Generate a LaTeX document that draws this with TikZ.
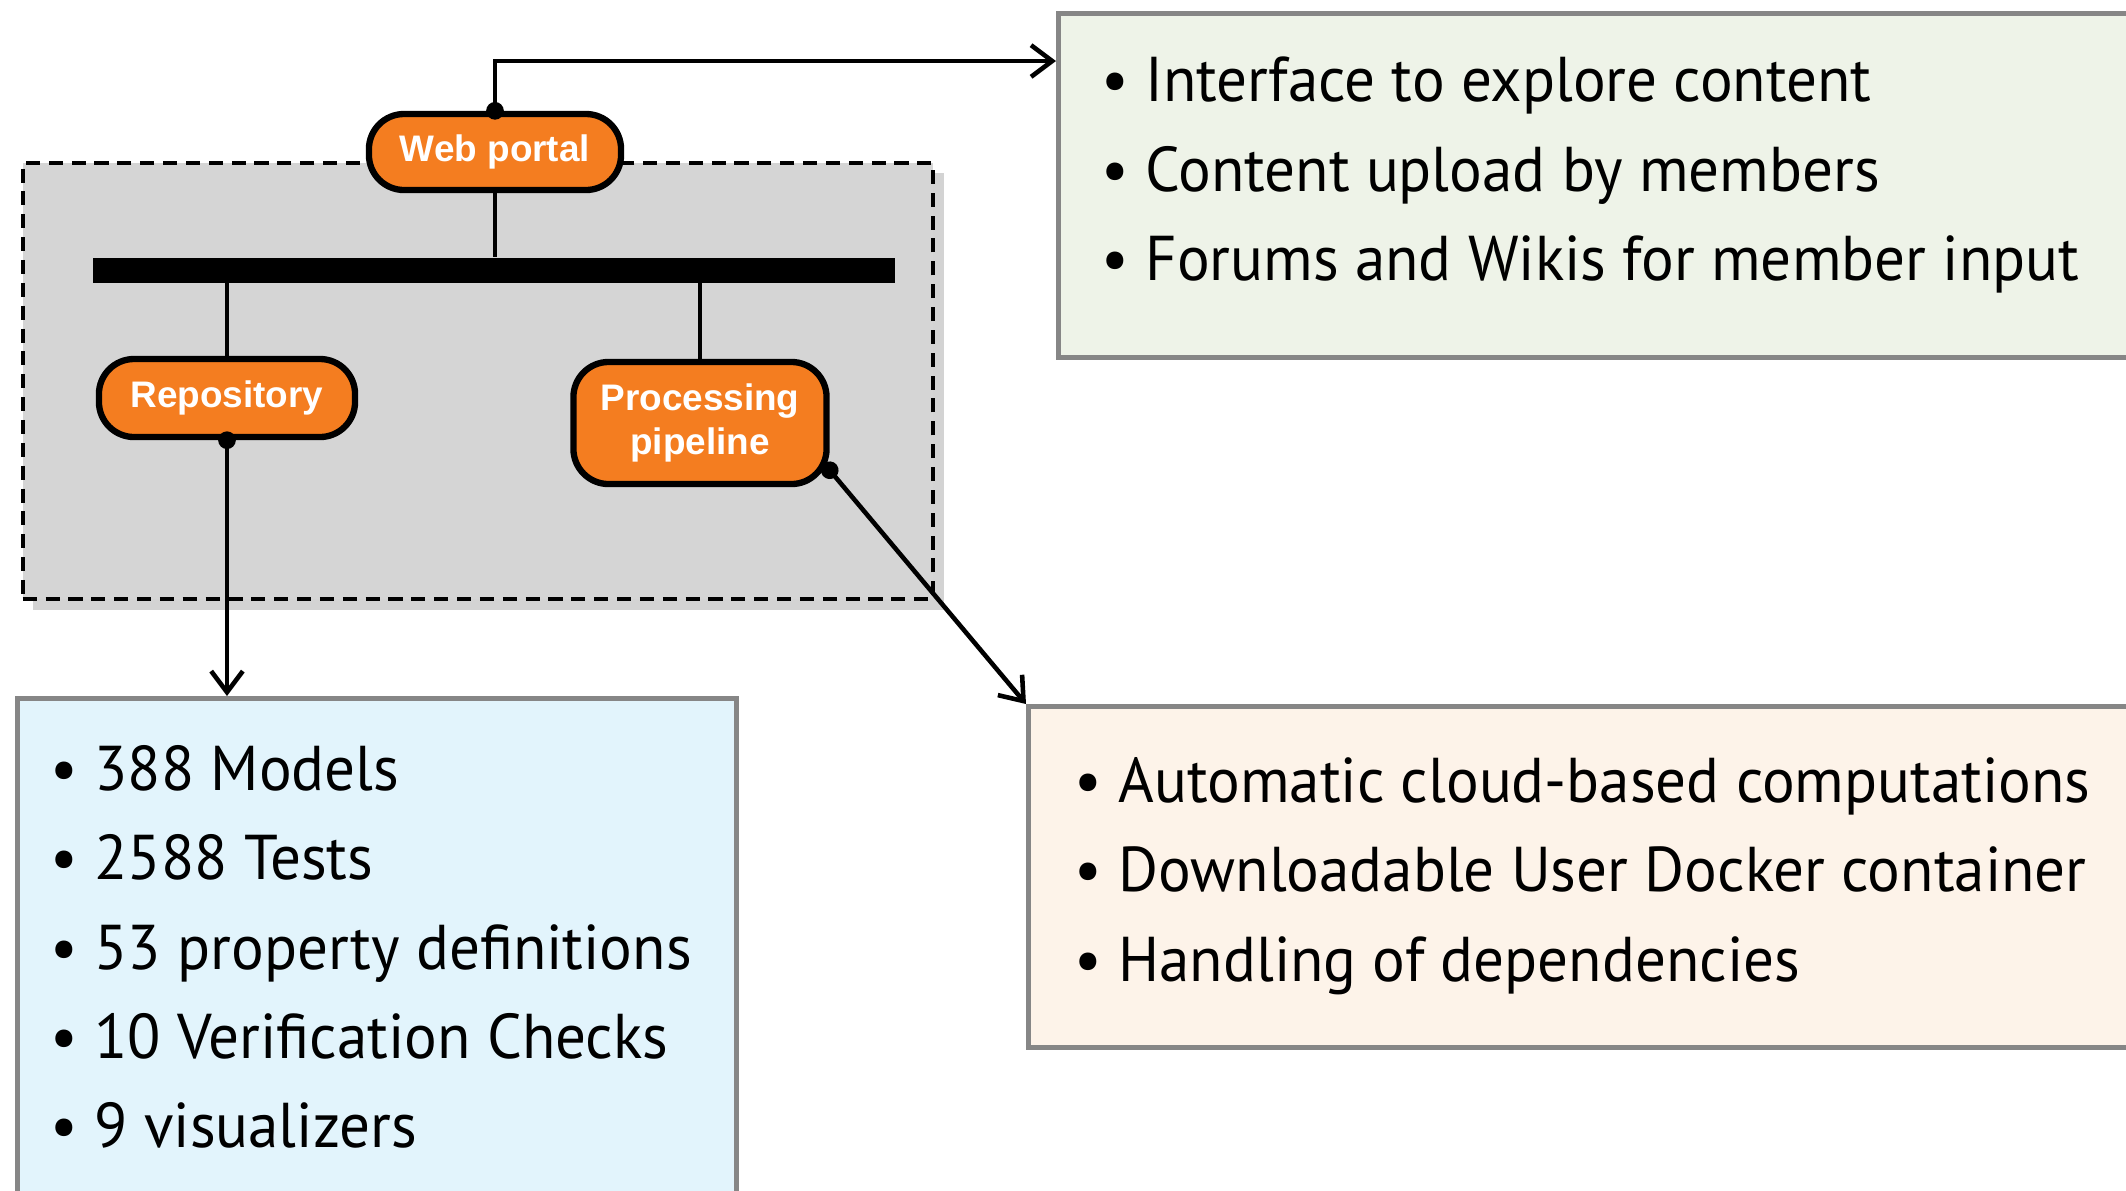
\documentclass[tikz,border=0pt]{standalone}
\usepackage{fontspec}
\setmainfont[FakeStretch=0.965]{PT Sans}
\newfontfamily\labelfont{Liberation Sans}
\usetikzlibrary{arrows.meta,shadows}

\definecolor{portalorange}{HTML}{F47D20}
\definecolor{groupgray}{HTML}{D5D5D5}
\definecolor{webgreen}{HTML}{EEF3E8}
\definecolor{repoblue}{HTML}{E2F4FC}
\definecolor{procbeige}{HTML}{FDF3E9}
\definecolor{boxborder}{HTML}{868686}

\begin{document}
\begin{tikzpicture}[x=0.01cm, y=-0.01cm,
  comp/.style={draw=black, line width=1.8pt, fill=portalorange, rounded corners=10pt, text=white, align=center, font=\labelfont\bfseries\fontsize{10.5}{12.5}\selectfont},
  group/.style={draw=black, fill=groupgray, line width=1.1pt, dash pattern=on 4pt off 2.5pt, drop shadow={shadow xshift=3pt, shadow yshift=-3pt, opacity=0.35}},
  info/.style={draw=boxborder, line width=1.3pt, anchor=north west},
  items/.style={anchor=west, inner sep=0pt, align=left, font=\fontsize{18}{25.4}\selectfont},
  link/.style={line width=1.3pt, {Circle[length=5pt]}-{Straight Barb[length=6pt,width=9pt]}, shorten <=-2.5pt}]
  \useasboundingbox (0,0) rectangle (2126,1190);
  \clip (0,0) rectangle (2126,1190);

  % Feature boxes
  \node[info, fill=webgreen, minimum width=11cm, minimum height=3.44cm] (webbox) at (1056,11) {};
  \node[info, fill=repoblue, minimum width=7.19cm, minimum height=6cm] (repobox) at (15,696) {};
  \node[info, fill=procbeige, minimum width=11.5cm, minimum height=3.41cm] (procbox) at (1026,704) {};

  \node[items] (webitems) at (1101,175) {\textbullet\ Interface to explore content\\
    \textbullet\ Content upload by members\\
    \textbullet\ Forums and Wikis for member input};
  \node[items] (repoitems) at (50,947) {\textbullet\ 388 Models\\
    \textbullet\ 2588 Tests\\
    \textbullet\ 53 property definitions\\
    \textbullet\ 10 Verification Checks\\
    \textbullet\ 9 visualizers};
  \node[items] (procitems) at (1074,876) {\textbullet\ Automatic cloud-based computations\\
    \textbullet\ Downloadable User Docker container\\
    \textbullet\ Handling of dependencies};

  % Platform
  \node[group, minimum width=9.1cm, minimum height=4.36cm] (platform) at (478,381) {};
  \node[comp, minimum width=2.52cm, minimum height=0.76cm] (web) at (495,152) {Web portal};
  \node[fill=black, inner sep=0pt, minimum width=8.01cm, minimum height=0.25cm] (bus) at (494,270) {};
  \node[comp, minimum width=2.56cm, minimum height=0.78cm] (repo) at (227,398) {Repository};
  \node[comp, minimum width=2.53cm, minimum height=1.22cm] (proc) at (700,423) {Processing\\pipeline};

  \draw[line width=1.2pt] (web.south) -- (web.south |- bus.north);
  \draw[line width=1.2pt] (repo.north |- bus.south) -- (repo.north);
  \draw[line width=1.2pt] (proc.north |- bus.south) -- (proc.north);

  % Links to the boxes
  \coordinate (webin) at (1056,61);
  \draw[link] (web.north) |- (webin);
  \draw[link] (repo.south) -- (repo.south |- repobox.north);
  \draw[link] (proc.-20) -- (procbox.north west);
\end{tikzpicture}
\end{document}
